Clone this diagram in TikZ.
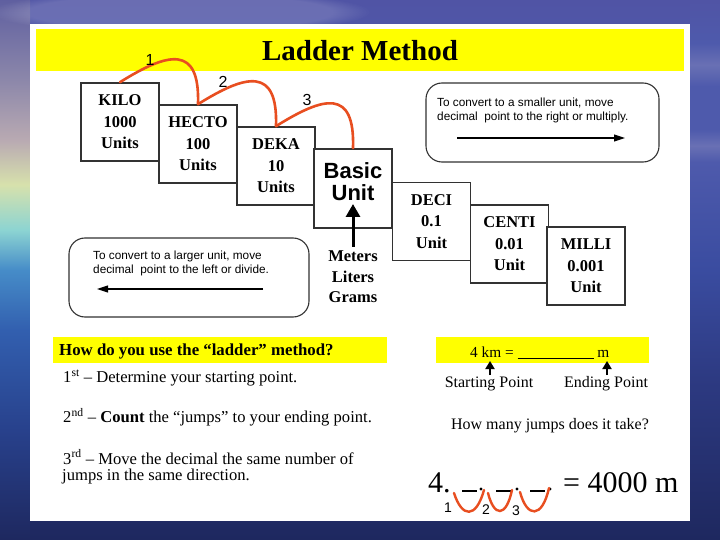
\documentclass[tikz,border=0pt]{standalone}
\usepackage{fontspec}
\setmainfont{Liberation Serif}
\newfontfamily\arial{Liberation Sans}
\usetikzlibrary{arrows.meta,fadings}
\definecolor{arcred}{RGB}{232,78,32}
\definecolor{boxline}{RGB}{50,50,50}
\definecolor{ylw}{RGB}{255,255,0}
\definecolor{skyA}{RGB}{80,84,165}
\definecolor{skyB}{RGB}{78,90,172}
\definecolor{skyC}{RGB}{58,76,160}
\definecolor{skyD}{RGB}{45,58,130}
\definecolor{skyE}{RGB}{30,40,95}
\definecolor{lsA}{RGB}{95,95,160}
\definecolor{lsB}{RGB}{140,135,170}
\definecolor{lsC}{RGB}{185,170,178}
\definecolor{lsD}{RGB}{215,225,172}
\definecolor{lsE}{RGB}{140,212,210}
\definecolor{lsF}{RGB}{70,140,200}
\definecolor{lsG}{RGB}{50,95,175}
\definecolor{lsH}{RGB}{40,65,140}
\definecolor{rsCloud}{RGB}{105,112,180}
\pgfdeclareverticalshading{mainsky}{100bp}{color(0bp)=(skyE); color(25bp)=(skyE); color(40bp)=(skyD); color(50bp)=(skyC); color(68bp)=(skyB); color(75bp)=(skyA); color(100bp)=(skyA)}
\pgfdeclareverticalshading{leftsky}{100bp}{color(0bp)=(skyE); color(25bp)=(skyE); color(35.2bp)=(lsH); color(44.4bp)=(lsG); color(50bp)=(lsF); color(53.7bp)=(lsE); color(57.9bp)=(lsD); color(62bp)=(lsC); color(67.6bp)=(lsB); color(75bp)=(lsA); color(100bp)=(lsA)}
\pgfdeclareverticalshading{rightsky}{100bp}{color(0bp)=(skyE); color(25bp)=(skyE); color(40bp)=(skyD); color(50bp)=(skyC); color(60bp)=(skyB); color(61.5bp)=(rsCloud); color(63bp)=(skyB); color(67bp)=(skyB); color(69bp)=(rsCloud); color(71bp)=(skyB); color(75bp)=(skyA); color(100bp)=(skyA)}
\tikzset{
  unitbox/.style={draw=boxline, line width=1.6pt, fill=white, minimum width=78pt, minimum height=78pt, inner sep=0pt, align=center, font=\fontsize{16.5}{21.5}\selectfont\bfseries},
  jumparc/.style={draw=arcred, line width=2.6pt, line cap=round},
  jumpnum/.style={font=\arial\fontsize{16}{16}\selectfont, inner sep=0pt},
  rbox/.style={draw=boxline, line width=1.1pt, rounded corners=16pt, fill=white},
  rtext/.style={font=\arial\fontsize{11.8}{14}\selectfont, align=left, anchor=west, inner sep=0pt},
  thinarrow/.style={line width=1.1pt, -{Triangle[width=7pt,length=11pt]}},
  bodytext/.style={font=\fontsize{16.6}{19}\selectfont, anchor=west, inner sep=0pt},
  vmark/.style={draw=arcred, line width=2.4pt, line cap=round},
}
\begin{document}
\begin{tikzpicture}[x=1pt,y=-1pt]
\useasboundingbox (0,0) rectangle (720,540);
% background
\shade[shading=mainsky] (0,0) rectangle (720,540);
\shade[shading=leftsky] (0,0) rectangle (30,540);
\shade[shading=rightsky] (690,0) rectangle (720,540);
\fill[white, opacity=0.15, path fading=circle with fuzzy edge 20 percent] (180,12) ellipse (190 and 22);
% panel
\fill[white] (30,24) rectangle (690,521);
% title band
\fill[ylw] (36,29) rectangle (684,71);
\node[font=\fontsize{29}{29}\selectfont\bfseries, inner sep=0pt] (title) at (360,51) {Ladder Method};
% ladder boxes
\node[unitbox] (kilo)  at (120,122)   {KILO\\1000\\Units};
\node[unitbox] (hecto) at (198,144)   {HECTO\\100\\Units};
\node[unitbox] (deka)  at (276,166)   {DEKA\\10\\Units};
\node[unitbox, minimum height=79pt] (basic) at (353,188.5) {};
\node[font=\arial\bfseries\fontsize{22}{22}\selectfont, align=center, inner sep=0pt] (basictxt) at (353,182) {Basic\\Unit};
\node[unitbox] (deci)  at (431.5,221.5) {DECI\\0.1\\Unit};
\node[unitbox] (centi) at (509.5,244)  {CENTI\\0.01\\Unit};
\node[unitbox] (milli) at (586,266)    {MILLI\\0.001\\Unit};
% jump arcs
\draw[jumparc] (kilo.north) .. controls +(48,-30) and +(2,-60) .. (hecto.north);
\draw[jumparc] (hecto.north) .. controls +(48,-30) and +(2,-60) .. (deka.north);
\draw[jumparc] (deka.north) .. controls +(48,-30) and +(2,-60) .. (basic.north);
\node[jumpnum] (n1) at (150,60) {1};
\node[jumpnum] (n2) at (223,82) {2};
\node[jumpnum] (n3) at (307,100) {3};
% meters liters grams
\node[font=\fontsize{16.5}{20.5}\selectfont\bfseries, align=center, inner sep=0pt] (mlg) at (353,277) {Meters\\Liters\\Grams};
\coordinate (basictip) at (353,204);
\draw[line width=3pt, -{Triangle[width=14pt,length=13pt]}] (mlg.north) ++(0,-4) coordinate (mlgtop) (mlgtop) -- (basictip);
% right rounded box
\node[rbox, minimum width=233pt, minimum height=79pt] (rightbox) at (542.5,122.5) {};
\node[rtext] (righttxt) at (437,110) {To convert to a smaller unit, move\\decimal~ point to the right or multiply.};
\coordinate (ra) at (457,138);
\coordinate (rb) at (625,138);
\draw[thinarrow] (ra) -- (rb);
% left rounded box
\node[rbox, minimum width=240pt, minimum height=79pt] (leftbox) at (189,277.5) {};
\node[rtext] (lefttxt) at (93,263.5) {To convert to a larger unit, move\\decimal~ point to the left or divide.};
\coordinate (la) at (263,289);
\coordinate (lb) at (97,289);
\draw[thinarrow] (la) -- (lb);
% bottom left
\fill[ylw] (53,337) rectangle (387,363);
\node[font=\fontsize{16.8}{18}\selectfont\bfseries, anchor=west, inner sep=0pt] (howuse) at (59,351) {How do you use the “ladder” method?};
\node[bodytext] (s1) at (63,378) {1\textsuperscript{st} – Determine your starting point.};
\node[bodytext] (s2) at (63,417) {2\textsuperscript{nd} – \textbf{Count} the “jumps” to your ending point.};
\node[bodytext] (s3) at (63,457) {3\textsuperscript{rd} – Move the decimal the same number of};
\node[bodytext] (s4) at (62,477) {jumps in the same direction.};
% bottom right
\fill[ylw] (436,337) rectangle (649,363);
\node[font=\fontsize{15.3}{18}\selectfont, anchor=base west, inner sep=0pt] (eq) at (470,357) {4 km = \rule[-2pt]{76pt}{0.7pt} m};
\coordinate (sa) at (490,375);
\coordinate (sb) at (490,361);
\coordinate (ea) at (607,375);
\coordinate (eb) at (607,361);
\draw[line width=1.8pt, -{Triangle[width=9pt,length=8pt]}] (sa) -- (sb);
\draw[line width=1.8pt, -{Triangle[width=9pt,length=8pt]}] (ea) -- (eb);
\node[font=\fontsize{16}{19}\selectfont, inner sep=0pt] (startp) at (489,384) {Starting Point};
\node[font=\fontsize{16}{19}\selectfont, inner sep=0pt] (endp) at (606,384) {Ending Point};
\node[font=\fontsize{16}{19}\selectfont, inner sep=0pt] (howmany) at (550,426) {How many jumps does it take?};
% big equation
\node[font=\fontsize{30}{30}\selectfont, anchor=base west, inner sep=0pt] (four) at (428,492) {4.};
\draw[line width=1.3pt] (462,491) -- (477,491);
\draw[line width=1.3pt] (496,491) -- (512,491);
\draw[line width=1.3pt] (530,491) -- (545,491);
\fill (481,489) circle (1.7);
\fill (517,489) circle (1.7);
\fill (550,489) circle (1.7);
\node[font=\fontsize{30}{30}\selectfont, anchor=base west, inner sep=0pt] (res) at (563,492) {= 4000 m};
% red V jumps
\draw[vmark] (454,493) .. controls (462,518) and (476,519) .. (484,490);
\draw[vmark] (488,493) .. controls (494,517) and (506,518) .. (512,490);
\draw[vmark] (520,492) .. controls (527,518) and (542,519) .. (549,488);
\node[font=\arial\fontsize{14}{14}\selectfont, inner sep=0pt] (v1) at (448,508) {1};
\node[font=\arial\fontsize{14}{14}\selectfont, inner sep=0pt] (v2) at (486,510) {2};
\node[font=\arial\fontsize{14}{14}\selectfont, inner sep=0pt] (v3) at (516,511) {3};
\end{tikzpicture}
\end{document}
